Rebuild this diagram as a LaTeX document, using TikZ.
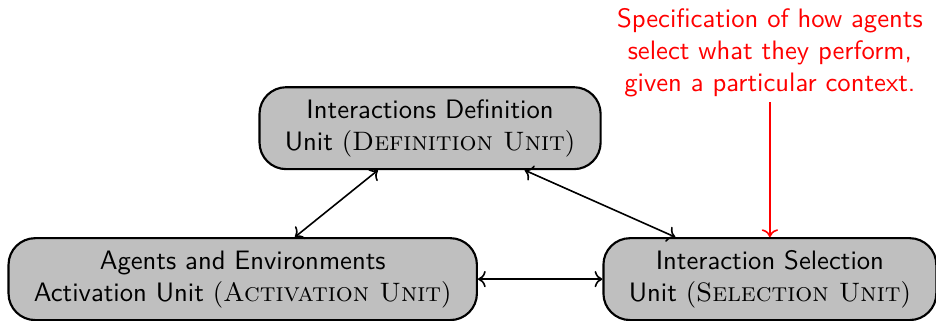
\documentclass[tikz,border=0pt]{standalone}
\usepackage{tikz}
\usetikzlibrary{arrows.meta}
\tikzset{
  jedinica/.style={draw=black,line width=0.8pt,fill=black!25,rounded corners=10pt,
                   align=center,inner xsep=9.5pt,minimum height=1.08cm,font=\sffamily},
  napomena/.style={align=center,font=\sffamily,text=red},
  veza/.style={<->,line width=0.6pt,black},
  crvena/.style={->,line width=0.6pt,red},
}
% naziv jedinice u zagradi, serifni kapitalci
\newcommand{\skraceno}[1]{\textrm{(\textsc{#1})}}

\begin{document}
\begin{tikzpicture}
  \useasboundingbox (0,0) rectangle (12.34,4.22);

  % ---------- JEDINICE ----------
  \node[jedinica] (def) at (5.67,2.53)
       {Interactions Definition\\Unit \skraceno{Definition Unit}};
  \node[jedinica] (act) at (3.20,0.54)
       {Agents and Environments\\Activation Unit \skraceno{Activation Unit}};
  \node[jedinica] (sel) at (10.15,0.54)
       {Interaction Selection\\Unit \skraceno{Selection Unit}};

  % ---------- VEZE ----------
  \draw[veza] (def) -- (act);
  \draw[veza] (def) -- (sel);
  \draw[veza] (act) -- (sel);

  % ---------- NAPOMENA ----------
  \node[napomena,inner ysep=2pt] (nap) at (10.15,3.53)
       {Specification of how agents\\select what they perform,\\given a particular context.};
  \draw[crvena] (nap) -- (sel);

\end{tikzpicture}
\end{document}
